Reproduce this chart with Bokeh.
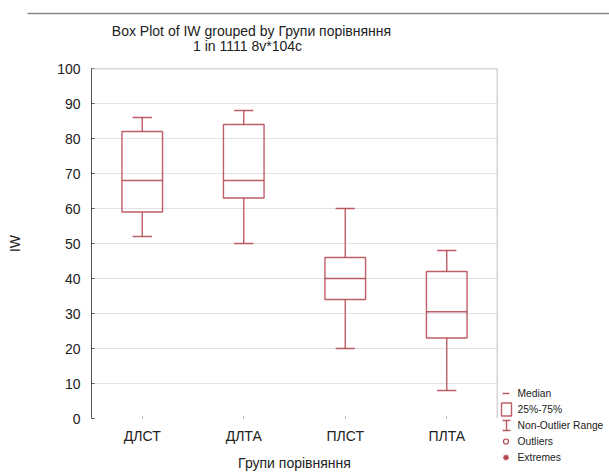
from bokeh.plotting import figure
from bokeh.layouts import column, row
from bokeh.models import (FactorRange, Range1d, ColumnDataSource, FixedTicker, Span)
from bokeh.core.properties import value
from bokeh.transform import dodge
from bokeh.embed import file_html
from bokeh.resources import INLINE

# ---- data ----
groups = ["ДЛСТ", "ДЛТА", "ПЛСТ", "ПЛТА"]
q1 = [59, 63, 34, 23]
median = [68, 68, 40, 30.5]
q3 = [82, 84, 46, 42]
lower = [52, 50, 20, 8]
upper = [86, 88, 60, 48]
y_ticks = [0, 10, 20, 30, 40, 50, 60, 70, 80, 90, 100]
title_lines = ["Box Plot of IW grouped by Групи порівняння", "1 in 1111 8v*104c"]
legend_labels = ["Median", "25%-75%", "Non-Outlier Range", "Outliers", "Extremes"]

FONT = "Liberation Sans"
RED = "#b3434b"
TXT = "#222222"
LW, LA = 1.4, 0.85

# page geometry (Bokeh's page template has no body margin)
TOTAL_W, TOTAL_H = 609, 473
HDR_H = 60                      # header strip: rule + title
MAIN_W = 499                    # main plot width
LEG_W = TOTAL_W - MAIN_W        # legend strip width
MAIN_H = TOTAL_H - HDR_H

# ---------------- header (rule + title) ----------------
hdr = figure(width=TOTAL_W, height=HDR_H, x_range=Range1d(0, TOTAL_W),
             y_range=Range1d(HDR_H, 0), output_backend="svg", toolbar_location=None,
             x_axis_location=None, y_axis_location=None, title_location=None,
             min_border=0)
hdr.frame_align = False
hdr.outline_line_color = None
hdr.grid.visible = False
hdr.segment(x0=[27], y0=[13], x1=[TOTAL_W], y1=[13], line_color="#888888", line_width=1.5)
hdr.text(x=[251, 247], y=[30, 45], text=title_lines, text_align="center",
         text_baseline="middle", text_font=value(FONT), text_font_size=value("14px"),
         text_color=TXT)

# ---------------- main box plot ----------------
src = ColumnDataSource(dict(x=groups, q1=q1, med=median, q3=q3, lo=lower, up=upper))

p = figure(width=MAIN_W, height=MAIN_H, x_range=FactorRange(factors=groups),
           y_range=Range1d(0, 100), output_backend="svg", toolbar_location=None,
           title_location=None, min_border_left=91, min_border_right=2,
           min_border_top=8, min_border_bottom=52)
p.frame_align = False
p.outline_line_color = None

# whiskers
p.segment(x0="x", y0="q3", x1="x", y1="up", source=src, line_color=RED, line_width=LW, line_alpha=LA)
p.segment(x0="x", y0="q1", x1="x", y1="lo", source=src, line_color=RED, line_width=LW, line_alpha=LA)
for col in ["up", "lo"]:
    p.segment(x0=dodge("x", -0.095, range=p.x_range), y0=col,
              x1=dodge("x", 0.095, range=p.x_range), y1=col,
              source=src, line_color=RED, line_width=LW, line_alpha=LA)
# boxes
p.vbar(x="x", bottom="q1", top="q3", width=0.4, source=src, fill_color=None,
       line_color=RED, line_width=LW, line_alpha=LA)
# medians
p.segment(x0=dodge("x", -0.2, range=p.x_range), y0="med",
          x1=dodge("x", 0.2, range=p.x_range), y1="med",
          source=src, line_color=RED, line_width=LW, line_alpha=LA)

# grid
p.xgrid.grid_line_color = None
p.ygrid.ticker = FixedTicker(ticks=y_ticks)
p.ygrid.grid_line_color = "#e2e2e2"

# frame lines (top and right)
p.add_layout(Span(location=100, dimension="width", line_color="#aaaaaa", line_width=1.5))
p.add_layout(Span(location=len(groups), dimension="height", line_color="#aaaaaa", line_width=1.5))

# y axis
ya = p.yaxis[0]
ya.ticker = FixedTicker(ticks=y_ticks)
ya.major_tick_in = 3
ya.major_tick_out = 0
ya.minor_tick_line_color = None
ya.axis_line_color = "#555555"
ya.major_tick_line_color = "#555555"
ya.major_label_text_font = FONT
ya.major_label_text_font_size = "14px"
ya.major_label_text_color = TXT
ya.major_label_standoff = 11
ya.axis_label = "IW"
ya.axis_label_text_font = FONT
ya.axis_label_text_font_size = "14px"
ya.axis_label_text_font_style = "normal"
ya.axis_label_text_color = TXT
ya.axis_label_standoff = 31

# x axis
xa = p.xaxis[0]
xa.axis_line_color = None
xa.major_tick_in = 2
xa.major_tick_out = 0
xa.major_tick_line_color = "#999999"
xa.major_label_text_font = FONT
xa.major_label_text_font_size = "14px"
xa.major_label_text_color = TXT
xa.major_label_standoff = 9
xa.axis_label = "Групи порівняння"
xa.axis_label_text_font = FONT
xa.axis_label_text_font_size = "14px"
xa.axis_label_text_font_style = "normal"
xa.axis_label_text_color = TXT
xa.axis_label_standoff = 8

# ---------------- legend strip ----------------
leg = figure(width=LEG_W, height=MAIN_H, x_range=Range1d(MAIN_W, TOTAL_W),
             y_range=Range1d(TOTAL_H, HDR_H), output_backend="svg",
             toolbar_location=None, x_axis_location=None, y_axis_location=None,
             title_location=None, min_border=0)
leg.frame_align = False
leg.outline_line_color = None
leg.grid.visible = False

rows = [393, 409, 425, 441, 457]
sym_x = 506
# median
leg.segment(x0=[sym_x - 4], y0=[rows[0]], x1=[sym_x + 3], y1=[rows[0]],
            line_color=RED, line_width=LW, line_alpha=LA)
# 25%-75% box
leg.quad(left=[sym_x - 5], right=[sym_x + 5], top=[rows[1] - 6.5], bottom=[rows[1] + 6.5],
         fill_color=None, line_color=RED, line_width=LW, line_alpha=LA)
# non-outlier range (whisker "I")
leg.segment(x0=[sym_x - 4, sym_x - 4, sym_x], y0=[rows[2] - 5, rows[2] + 5, rows[2] - 5],
            x1=[sym_x + 4, sym_x + 4, sym_x], y1=[rows[2] - 5, rows[2] + 5, rows[2] + 5],
            line_color=RED, line_width=LW, line_alpha=LA)
# outliers
leg.scatter(x=[sym_x - 0.5], y=[rows[3]], marker="circle", size=5, fill_color=None,
            line_color=RED, line_width=1.2)
# extremes
leg.scatter(x=[sym_x - 0.5], y=[rows[4]], marker="asterisk", size=6,
            line_color=RED, line_width=1.3)
# labels
leg.text(x=[517] * len(rows), y=rows, text=legend_labels, text_align="left",
         text_baseline="middle", text_font=value(FONT), text_font_size=value("10.3px"),
         text_color=TXT)

layout = column(hdr, row(p, leg, spacing=0), spacing=0)
open("out.html", "w").write(file_html(layout, INLINE))
